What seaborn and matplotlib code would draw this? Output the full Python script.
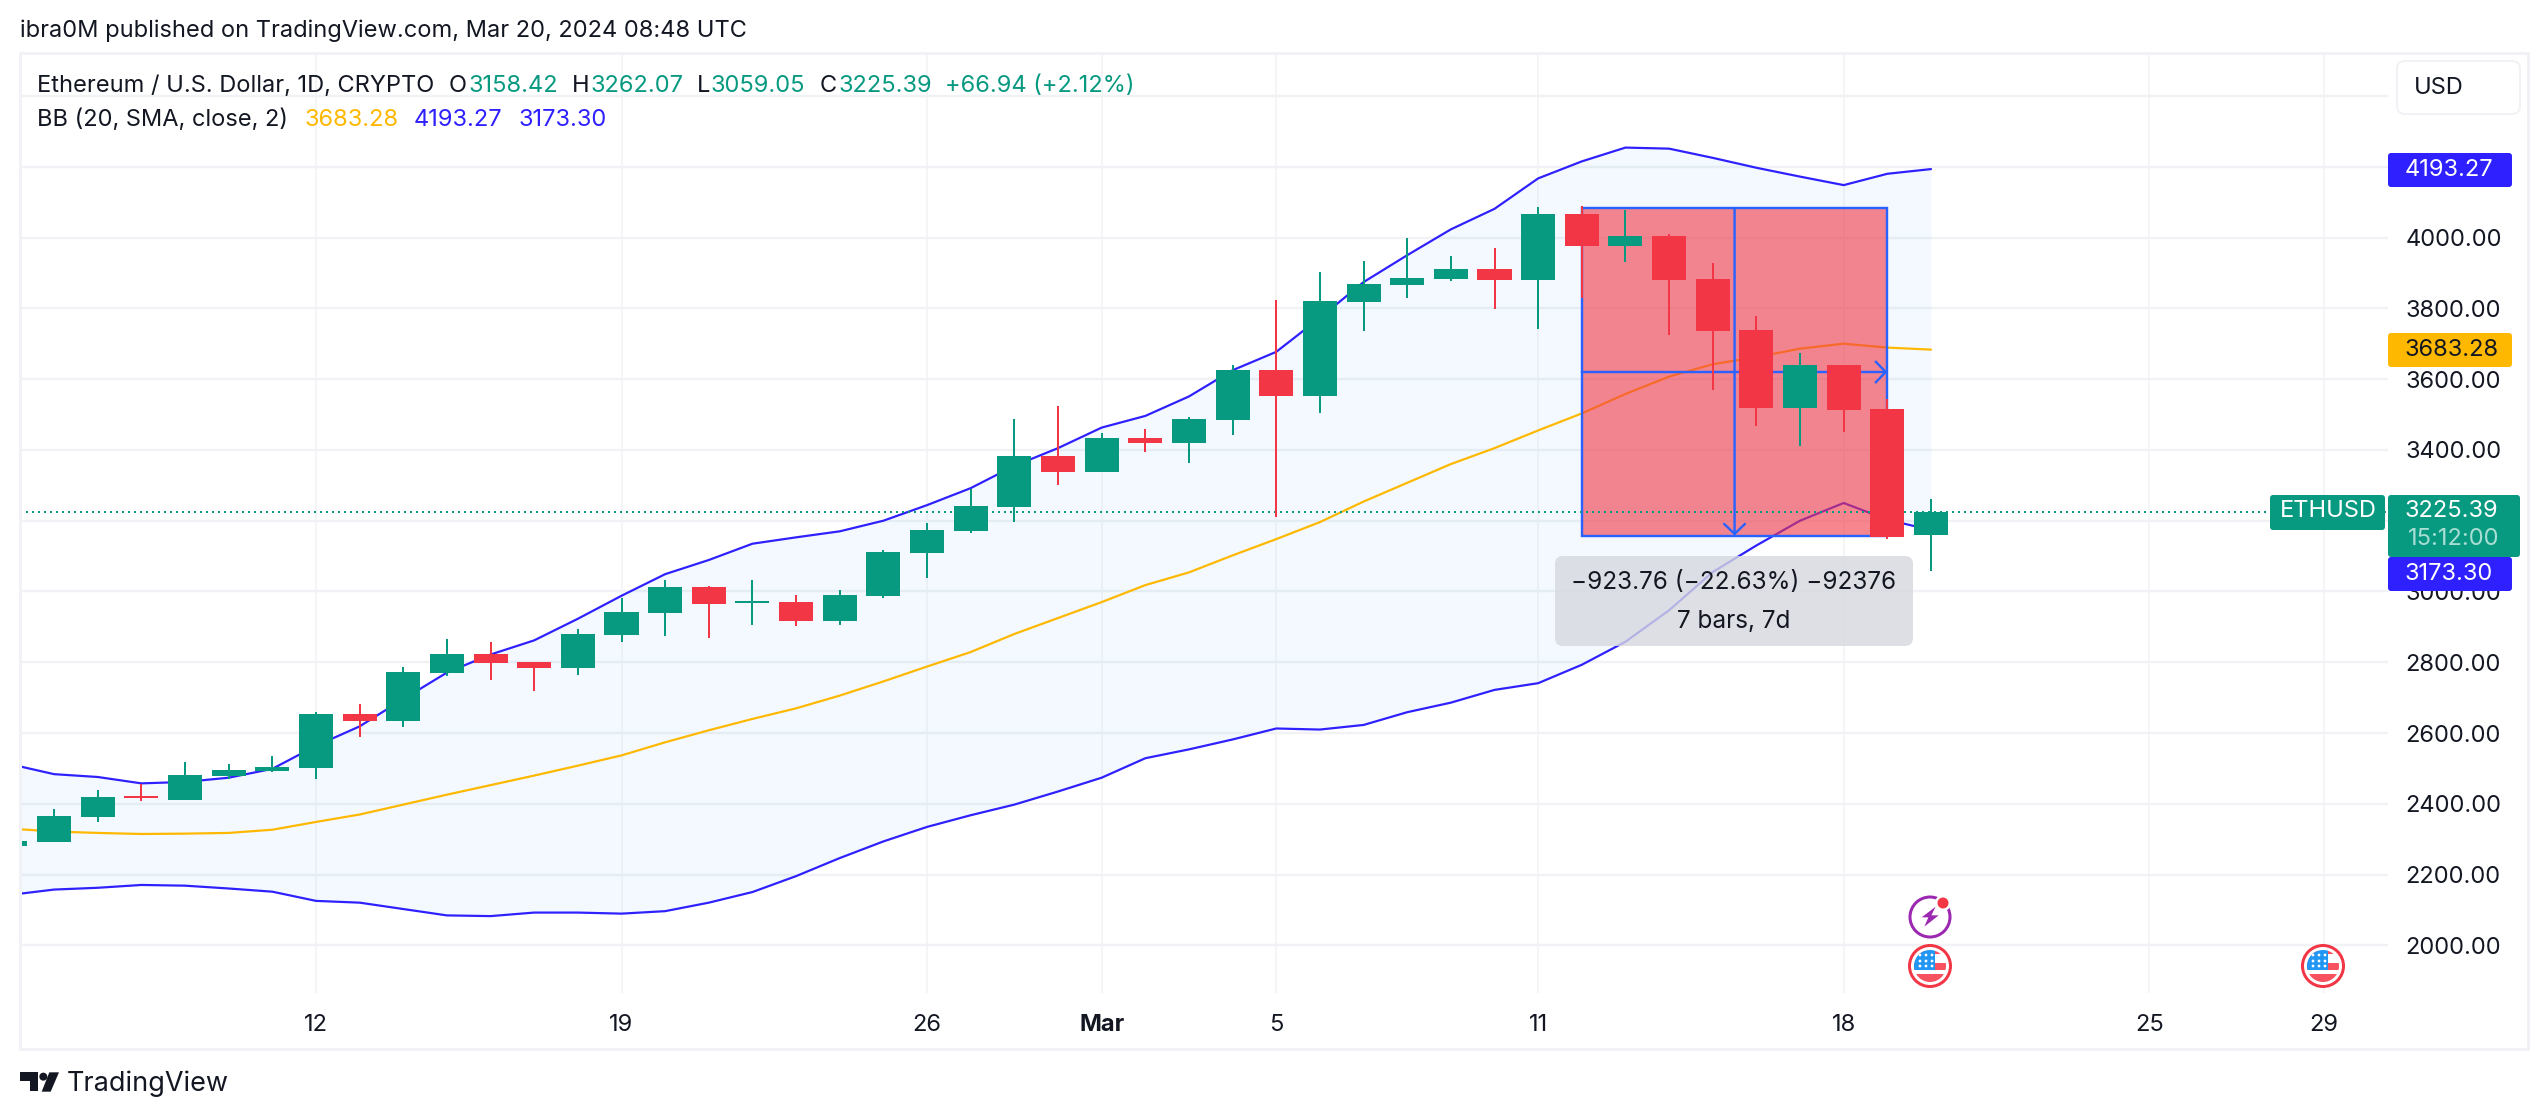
import matplotlib
matplotlib.use("Agg")
import matplotlib.dates as mdates
import matplotlib.pyplot as plt
import numpy as np
import pandas as pd
import seaborn as sns
from matplotlib.patches import Circle, FancyBboxPatch, Polygon, Rectangle

sns.set_theme(style="white")
plt.rcParams["font.family"] = ["Inter", "Roboto", "DejaVu Sans"]

GREEN = "#089981"
RED = "#f23645"
BLUE = "#2e20ff"
AMBER = "#ffb800"
DRAW = "#2962ff"
GRID = "#f0f2f5"
INK = "#131722"
PX = 0.72  # points per image pixel at dpi 100

days = pd.date_range("2024-02-05", "2024-03-20", freq="D")

opens = [2281, 2292, 2364, 2423, 2411, 2480, 2494, 2502, 2655, 2635, 2771, 2823, 2802, 2783, 2876,
         2939, 3012, 2967, 2970, 2917, 2987, 3109, 3171, 3238, 3383, 3337, 3434, 3420, 3485, 3626,
         3552, 3818, 3866, 3883, 3911, 3880, 4067, 3976, 4004, 3883, 3739, 3519, 3640, 3516, 3158.42]
highs = [2298, 2386, 2440, 2456, 2519, 2514, 2536, 2661, 2683, 2786, 2865, 2857, 2802, 2893, 2983,
         3033, 3015, 3033, 2990, 3004, 3117, 3194, 3289, 3488, 3524, 3448, 3459, 3493, 3640, 3824,
         3902, 3934, 3999, 3948, 3971, 4086, 4089, 4079, 4010, 3929, 3778, 3674, 3640, 3543, 3262.07]
lows = [2278, 2292, 2350, 2409, 2411, 2469, 2490, 2469, 2590, 2616, 2761, 2749, 2718, 2763, 2857,
        2873, 2869, 2904, 2902, 2904, 2982, 3037, 3166, 3196, 3301, 3337, 3394, 3364, 3442, 3210,
        3503, 3736, 3830, 3877, 3798, 3742, 3829, 3930, 3725, 3569, 3468, 3411, 3450, 3148, 3059.05]
closes = [2295, 2366, 2420, 2417, 2483, 2497, 2505, 2655, 2635, 2774, 2823, 2799, 2783, 2879, 2942,
          3012, 2964, 2973, 2917, 2990, 3111, 3174, 3241, 3383, 3337, 3434, 3420, 3488, 3626, 3552,
          3821, 3869, 3886, 3911, 3880, 4067, 3976, 4004, 3880, 3736, 3519, 3640, 3513, 3154, 3225.39]

bb_upper = [2512, 2484, 2476, 2458, 2462, 2474, 2499, 2564, 2619, 2696, 2771, 2822, 2862, 2923, 2988,
            3049, 3089, 3135, 3153, 3170, 3200, 3244, 3292, 3355, 3405, 3463, 3496, 3551, 3625, 3677,
            3773, 3874, 3950, 4023, 4081, 4167, 4215, 4254, 4251, 4225, 4197, 4172, 4148, 4180, 4193.27]
bb_mid = [2330, 2322, 2318, 2315, 2316, 2318, 2327, 2349, 2370, 2398, 2426, 2453, 2480, 2508, 2537,
          2574, 2608, 2640, 2670, 2706, 2746, 2788, 2829, 2880, 2925, 2970, 3018, 3054, 3102, 3148,
          3196, 3254, 3307, 3360, 3405, 3455, 3503, 3558, 3607, 3642, 3662, 3686, 3700, 3689, 3683.28]
bb_lower = [2143, 2158, 2163, 2171, 2169, 2161, 2152, 2126, 2121, 2103, 2085, 2083, 2093, 2093, 2090,
            2097, 2121, 2151, 2196, 2247, 2294, 2335, 2368, 2398, 2435, 2474, 2529, 2554, 2582, 2613,
            2610, 2623, 2659, 2686, 2722, 2741, 2793, 2858, 2947, 3055, 3130, 3200, 3250, 3203, 3173.30]

price_ticks = [2000, 2200, 2400, 2600, 2800, 3000, 3200, 3400, 3600, 3800, 4000, 4200, 4400]
hidden_ticks = [3200, 4200, 4400]  # sit behind the tags / USD button
date_ticks = ["2024-02-12", "2024-02-19", "2024-02-26", "2024-03-01", "2024-03-05",
              "2024-03-11", "2024-03-18", "2024-03-25", "2024-03-29"]
date_labels = ["12", "19", "26", "Mar", "5", "11", "18", "25", "29"]

box_start, box_end = "2024-03-12", "2024-03-19"
box_top, box_bottom = 4082, 3158

df = pd.DataFrame({"day": days, "open": opens, "high": highs, "low": lows, "close": closes,
                   "upper": bb_upper, "mid": bb_mid, "lower": bb_lower})

fig = plt.figure(figsize=(25.48, 11.18), dpi=100, facecolor="white")
W, H = 2548, 1118
ax = fig.add_axes([19.6 / W, 1 - 993 / H, (2388 - 19.6) / W, (993 - 53.6) / H])

# price pane
ax.set_xlim(pd.Timestamp("2024-02-12") - pd.Timedelta(days=6.79),
            pd.Timestamp("2024-02-12") + pd.Timedelta(days=47.47))
ax.set_ylim(1865.8, 4519.5)
ax.set_axisbelow(True)
ax.grid(True, axis="y", color=GRID, lw=2.4 * PX)
ax.grid(True, axis="x", color="#f2f3f6", lw=1.6 * PX)
for s in ax.spines.values():
    s.set_visible(False)

ax.fill_between(df["day"], df["lower"], df["upper"], color="#2196f3", alpha=0.05, lw=0, zorder=1)
sns.lineplot(data=df, x="day", y="upper", color=BLUE, lw=2.2 * PX, ax=ax, zorder=2)
sns.lineplot(data=df, x="day", y="mid", color=AMBER, lw=2.2 * PX, ax=ax, zorder=2)
sns.lineplot(data=df, x="day", y="lower", color=BLUE, lw=2.2 * PX, ax=ax, zorder=2)
ax.set_xlabel("")
ax.set_ylabel("")

# measure drawing
x0, x1 = mdates.date2num(pd.Timestamp(box_start)), mdates.date2num(pd.Timestamp(box_end))
ax.add_patch(Rectangle((x0, box_bottom), x1 - x0, box_top - box_bottom, fc=RED, alpha=0.6, lw=0, zorder=3))
ax.add_patch(Rectangle((x0, box_bottom), x1 - x0, box_top - box_bottom, fc="none", ec=DRAW, lw=2.4 * PX, zorder=3.1))
xm, ym = (x0 + x1) / 2, (box_top + box_bottom) / 2
arrow = dict(arrowstyle="->,head_length=0.72,head_width=0.75", color=DRAW, lw=2.4 * PX,
             shrinkA=0, shrinkB=0, mutation_scale=10)
ax.annotate("", xy=(xm, box_bottom), xytext=(xm, box_top), arrowprops=arrow, zorder=3.2)
ax.annotate("", xy=(x1, ym), xytext=(x0, ym), arrowprops=arrow, zorder=3.2)

ax.axhline(closes[-1], color=GREEN, lw=2 * PX, ls=(0, (1, 2)), zorder=3.5)

# candles
colors = [GREEN if c >= o else RED for o, c in zip(opens, closes)]
ax.vlines(df["day"], df["low"], df["high"], colors=colors, lw=2 * PX, zorder=4)
ax.bar(df["day"], np.abs(df["close"] - df["open"]), bottom=df[["open", "close"]].min(axis=1),
       width=0.78, color=colors, lw=0, zorder=4.1)

# axes text
ax.yaxis.tick_right()
ax.set_yticks(price_ticks, [("" if p in hidden_ticks else f"{p:.2f}") for p in price_ticks])
ax.set_xticks(pd.to_datetime(date_ticks), date_labels)
ax.tick_params(axis="y", length=0, pad=12.5, labelsize=17, labelcolor=INK)
ax.tick_params(axis="x", length=0, pad=15, labelsize=17, labelcolor=INK)
ax.get_xticklabels()[3].set_fontweight("bold")

# everything else sits on a pixel overlay
ov = fig.add_axes([0, 0, 1, 1], zorder=10, facecolor="none")
ov.set_xlim(0, W)
ov.set_ylim(H, 0)
ov.axis("off")


def label(x, y, s, color=INK, size=17, **kw):
    kw.setdefault("va", "center")
    return ov.text(x, y, s, color=color, fontsize=size, **kw)


def tag(x0, y0, x1, y1, color):
    ov.add_patch(FancyBboxPatch((x0, y0), x1 - x0, y1 - y0, boxstyle="round,pad=0,rounding_size=3",
                                fc=color, lw=0, zorder=5))


ov.add_patch(Rectangle((19.6, 53), 2528 - 19.6, 1049 - 53, fc="none", ec=GRID, lw=3 * PX))

label(20, 31, "ibra0M published on TradingView.com, Mar 20, 2024 08:48 UTC")

label(37, 86, "Ethereum / U.S. Dollar, 1D, CRYPTO")
for x, s in [(449, "O"), (572, "H"), (697, "L"), (820, "C")]:
    label(x, 86, s)
for x, s in [(468, "3158.42"), (591, "3262.07"), (711, "3059.05"), (838, "3225.39"), (945, "+66.94 (+2.12%)")]:
    label(x, 86, s, color=GREEN)
label(37, 120, "BB (20, SMA, close, 2)")
label(304, 120, "3683.28", color=AMBER)
label(414, 120, "4193.27", color=BLUE)
label(518, 120, "3173.30", color=BLUE)

# measure label
ov.add_patch(FancyBboxPatch((1555, 556), 358, 90, boxstyle="round,pad=0,rounding_size=8",
                            fc="#d6d8de", alpha=0.8, lw=0, zorder=4))
label(1734, 582, "\u2212923.76 (\u221222.63%) \u221292376", size=17.5, ha="center", zorder=6)
label(1734, 622, "7 bars, 7d", size=17.5, ha="center", zorder=6)

# scale tags
ov.add_patch(FancyBboxPatch((2397, 61), 123, 53, boxstyle="round,pad=0,rounding_size=8", fc="white", ec=GRID, lw=2 * PX))
label(2414, 88, "USD")
tag(2388, 153, 2512, 187, BLUE)
label(2405, 170, "4193.27", color="white", zorder=6)
tag(2388, 333, 2512, 367, AMBER)
label(2405, 350, "3683.28", zorder=6)
tag(2270, 495, 2385, 530, GREEN)
label(2280, 511, "ETHUSD", color="white", zorder=6)
tag(2388, 557, 2512, 591, BLUE)
label(2405, 574, "3173.30", color="white", zorder=6)
tag(2388, 495, 2520, 557, GREEN)
label(2405, 511, "3225.39", color="white", zorder=6)
label(2408, 539, "15:12:00", color="#a8ded3", zorder=6)

# event icons
cx, cy = 1930, 917
ov.add_patch(Circle((cx, cy), 20, fc="white", ec="#9c27b0", lw=3 * PX))
bolt = np.array([(137, 80), (95, 112), (115, 112), (103, 140), (146, 106), (124, 106)]) / 3 + (1890, 880)
ov.add_patch(Polygon(bolt, fc="#9c27b0", lw=0))
ov.add_patch(Circle((1943, 903), 8, fc="white", lw=0))
ov.add_patch(Circle((1943, 903), 5.5, fc=RED, lw=0))

for fx in [1930, 2323]:
    fy = 966
    ov.add_patch(Circle((fx, fy), 20.5, fc="white", ec=RED, lw=3 * PX))
    disc = Circle((fx, fy), 16, fc="white", lw=0)
    ov.add_patch(disc)
    for y0, h in [(-3, 7), (8, 8)]:
        band = Rectangle((fx - 16, fy + y0), 32, h, fc="#f7525f", lw=0)
        ov.add_patch(band)
        band.set_clip_path(disc)
    band = Rectangle((fx - 16, fy - 15), 32, 3, fc="#f7525f", lw=0)
    ov.add_patch(band)
    band.set_clip_path(disc)
    canton = Rectangle((fx - 16, fy - 16), 21, 20, fc="#2196f3", lw=0)
    ov.add_patch(canton)
    canton.set_clip_path(disc)
    for dy in [-11, -5, 0]:
        for dx in [-10, -4, 2]:
            ov.add_patch(Circle((fx + dx, fy + dy), 1.4, fc="white", lw=0))

# logo
logo = (10, 1060)
ov.add_patch(Polygon(np.array([(30, 37), (85, 37), (85, 92), (60, 92), (60, 62), (30, 62)]) / 3 + logo, fc=INK, lw=0))
ov.add_patch(Circle((100 / 3 + 10, 50 / 3 + 1060), 4, fc=INK, lw=0))
ov.add_patch(Polygon(np.array([(118, 37), (147, 37), (122, 95), (95, 95)]) / 3 + logo, fc=INK, lw=0))
label(67, 1084, "TradingView", size=19.5)

fig.savefig("out.png", dpi=100)
